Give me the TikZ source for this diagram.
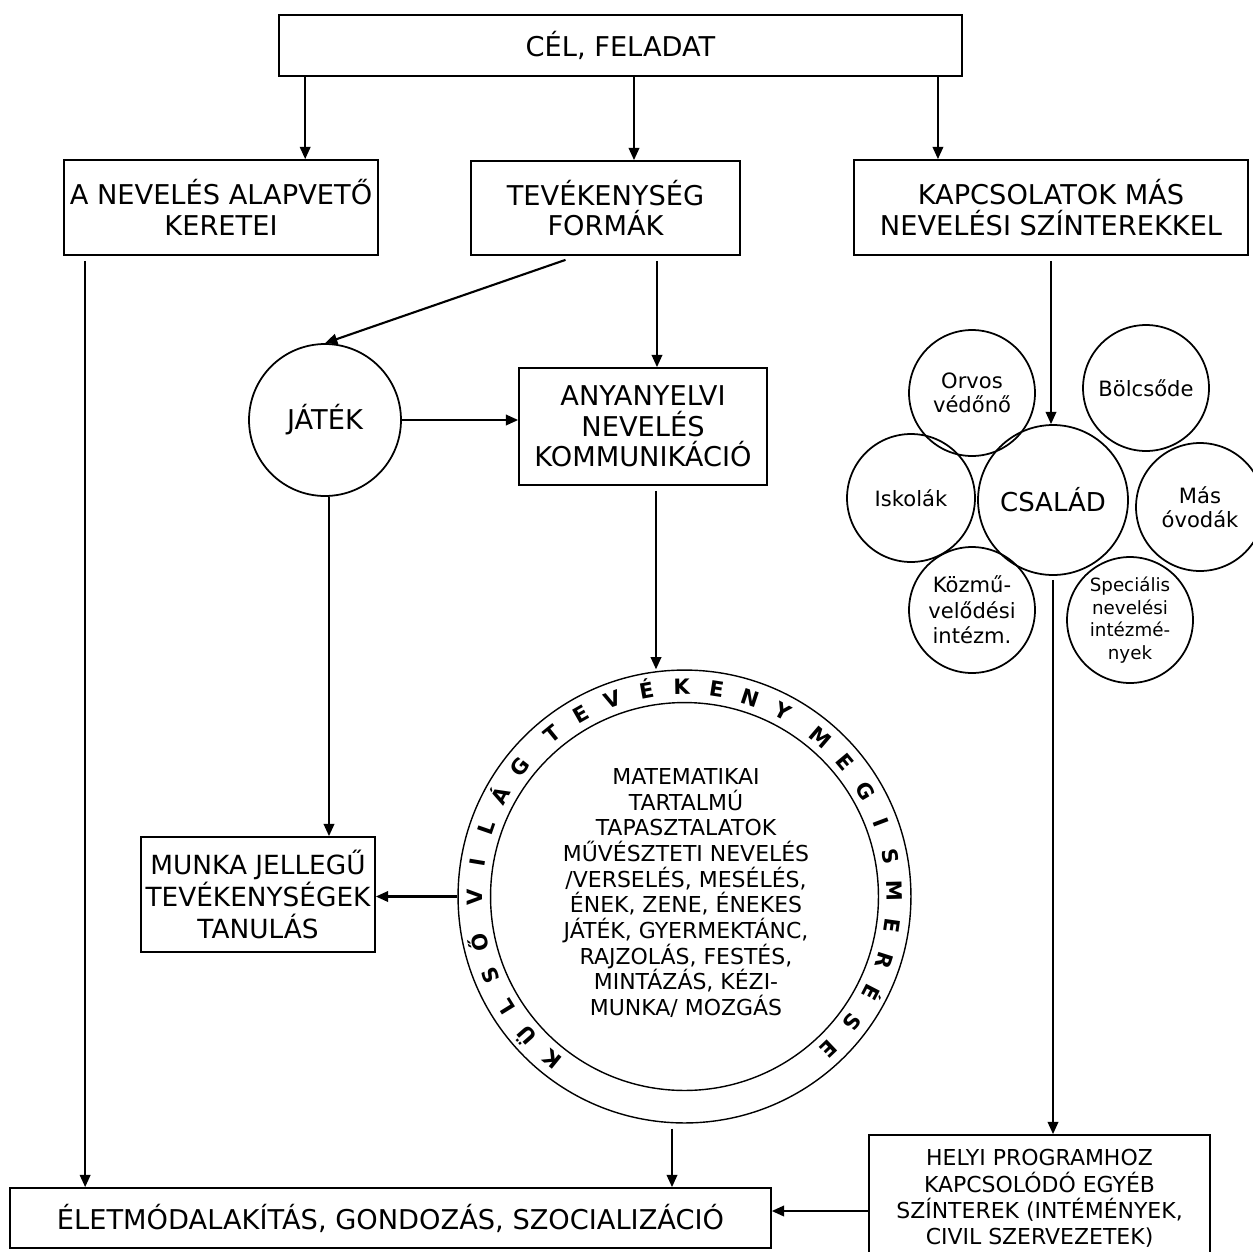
\documentclass[tikz,border=0pt]{standalone}
\usepackage{fontspec}
\setmainfont{DejaVu Sans}
\usetikzlibrary{arrows.meta,calc}

\begin{document}
\begin{tikzpicture}[x=0.02cm,y=-0.02cm,
    box/.style={draw,line width=1pt,rectangle,align=center,inner sep=1pt,
        font=\fontsize{15.5}{17.5}\selectfont},
    bubble/.style={draw,line width=1pt,circle,align=center,inner sep=0pt,
        minimum size=2.52cm,font=\fontsize{12}{13.8}\selectfont},
    arr/.style={-{Triangle[length=7pt,width=6pt]},line width=1.2pt},
    ringletter/.style={anchor=base,inner sep=0pt,font=\fontsize{12}{12}\selectfont\bfseries}]

    \useasboundingbox (0,0) rectangle (1253,1251);

    \node (goal) [box,minimum width=13.66cm,minimum height=1.22cm] at (620.5,45.5) {CÉL, FELADAT};
    \node (frame) [box,minimum width=6.28cm,minimum height=1.9cm] at (221,207.5) {A NEVELÉS ALAPVETŐ\\KERETEI};
    \node (forms) [box,minimum width=5.38cm,minimum height=1.88cm] at (605.5,208) {TEVÉKENYSÉG\\FORMÁK};
    \node (links) [box,minimum width=7.88cm,minimum height=1.9cm] at (1051,207.5) {KAPCSOLATOK MÁS\\NEVELÉSI SZÍNTEREKKEL};

    \node (play) [draw,circle,line width=1pt,minimum size=3.04cm,font=\fontsize{15.5}{17.5}\selectfont] at (325,420) {JÁTÉK};
    \node (mother) [box,minimum width=4.96cm,minimum height=2.34cm] at (643,426.5) {ANYANYELVI\\NEVELÉS\\KOMMUNIKÁCIÓ};
    \node (work) [box,minimum width=4.68cm,minimum height=2.3cm,font=\fontsize{15}{18}\selectfont] at (258,894.5) {MUNKA JELLEGŰ\\TEVÉKENYSÉGEK\\TANULÁS};

    % kulso vilag gyuru
    \node (ring) [draw,circle,line width=0.8pt,minimum size=9.06cm] at (684.5,896.5) {};
    \node (ringin) [draw,circle,line width=0.8pt,minimum size=7.76cm] at (ring.center) {};
    \node (topics) [align=center,font=\fontsize{12.5}{14.6}\selectfont] at (686,893)
        {MATEMATIKAI\\TARTALMÚ\\TAPASZTALATOK\\MŰVÉSZTETI NEVELÉS\\/VERSELÉS, MESÉLÉS,\\ÉNEK, ZENE, ÉNEKES\\JÁTÉK, GYERMEKTÁNC,\\RAJZOLÁS, FESTÉS,\\MINTÁZÁS, KÉZI-\\MUNKA/ MOZGÁS};
    \foreach \ch/\u in {K/-231,Ü/-221.4,L/-211.8,S/-202.2,Ő/-192.6,
                        V/-180.1,I/-170.5,L/-160.9,Á/-151.3,G/-141.7,
                        T/-129.2,E/-119.6,V/-110,É/-100.4,K/-90.8,E/-81.2,N/-71.6,Y/-62,
                        M/-49.5,E/-39.9,G/-30.3,I/-20.7,S/-11.1,M/-1.5,E/8.1,R/17.7,É/27.3,S/36.9,E/46.5}
        \node [ringletter,rotate={-90-(\u)}] at ($(ring.center)+(\u:202)$) {\ch};

    \node (life) [box,minimum width=15.22cm,minimum height=1.2cm] at (390.5,1218) {ÉLETMÓDALAKÍTÁS, GONDOZÁS, SZOCIALIZÁCIÓ};
    \node (local) [box,minimum width=6.82cm,minimum height=2.54cm,font=\fontsize{12.5}{14.9}\selectfont] at (1039.5,1198.5)
        {HELYI PROGRAMHOZ\\KAPCSOLÓDÓ EGYÉB\\SZÍNTEREK (INTÉMÉNYEK,\\CIVIL SZERVEZETEK)};

    % csalad es a tobbi szinter
    \node (family) [draw,circle,line width=1pt,minimum size=3cm,font=\fontsize{14.8}{16}\selectfont] at (1053,500) {CSALÁD};
    \node (doctor) [bubble] at (972,393) {Orvos\\védőnő};
    \node (nursery) [bubble] at (1146,388) {Bölcsőde};
    \node (school) [bubble,minimum size=2.56cm] at (911,498) {Iskolák};
    \node (kinder) [bubble,minimum size=2.56cm] at (1200,507) {Más\\óvodák};
    \node (culture) [bubble,font=\fontsize{12}{14.6}\selectfont] at (972,610) {Közmű-\\velődési\\intézm.};
    \node (special) [bubble,font=\fontsize{10.4}{12.9}\selectfont] at (1130,620) {Speciális\\nevelési\\intézmé-\\nyek};

    \draw[arr] ([xshift=0.54cm]goal.south west) -- ([xshift=0.54cm]goal.south west |- frame.north);
    \draw[arr] ([xshift=0.27cm]goal.south) -- ([xshift=0.27cm]goal.south |- forms.north);
    \draw[arr] ([xshift=6.35cm]goal.south) -- ([xshift=6.35cm]goal.south |- links.north);

    \draw[arr] ([xshift=0.44cm,yshift=-0.1cm]frame.south west) -- ([xshift=0.44cm]frame.south west |- life.north);
    \draw[arr] ([xshift=-0.8cm,yshift=-0.08cm]forms.south) -- (play.north);
    \draw[arr] ([xshift=1.03cm,yshift=-0.1cm]forms.south) -- ([xshift=1.03cm]forms.south |- mother.north);
    \draw[arr] (play.east) -- (play.east -| mother.west);
    \draw[arr] ([xshift=0.08cm]play.south) -- ([xshift=0.08cm]play.south |- work.north);
    \draw[arr] ([xshift=0.26cm,yshift=-0.1cm]mother.south) -- ([xshift=0.26cm]mother.south |- ring.north);
    \draw[arr] (ring.west) -- (ring.west -| work.east);
    \draw[arr] ([xshift=-0.25cm,yshift=-0.1cm]ring.south) -- ([xshift=-0.25cm]ring.south |- life.north);

    \draw[arr] ([yshift=-0.1cm]links.south) -- (links.south |- family.north);
    \draw[arr] ([yshift=-0.08cm]family.south) -- (family.south |- local.north);
    \draw[arr] ([yshift=-0.25cm]local.west) -- ([yshift=-0.25cm]local.west -| life.east);
\end{tikzpicture}
\end{document}
